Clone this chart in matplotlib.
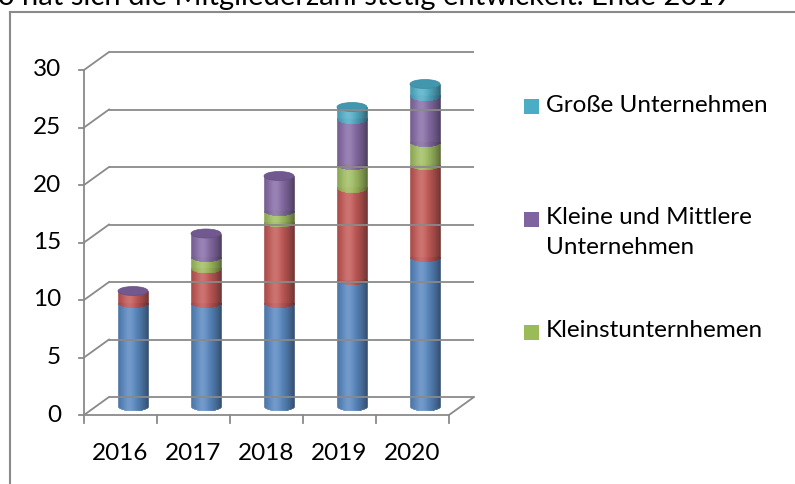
import numpy as np
import matplotlib
matplotlib.use("Agg")
import matplotlib.pyplot as plt
from matplotlib.patches import Ellipse, Rectangle
from matplotlib.lines import Line2D

# === Data ===
years = ["2016", "2017", "2018", "2019", "2020"]
series_names = ["Einzelmitglieder", "Kleinstunternhemen (rot)", "Kleinstunternhemen",
                "Kleine und Mittlere\nUnternehmen", "Große Unternehmen"]
blue = [9, 9, 9, 11, 13]
red = [1, 3, 7, 8, 8]
green = [0, 1, 1, 2, 2]
purple = [0, 2, 3, 4, 4]
cyan = [np.nan, np.nan, np.nan, 1, 1]
yticks = [0, 5, 10, 15, 20, 25, 30]
legend_idx = [4, 3, 2]  # entries visible in the legend, top to bottom

series = [blue, red, green, purple, cyan]
colors = ["#4F81BD", "#C0504D", "#9BBB59", "#8064A2", "#4BACC6"]

plt.rcParams['font.family'] = ['Lato', 'DejaVu Sans']
FS = 17.5
GREY = "#8a8a8a"

W, H = 795, 484
fig = plt.figure(figsize=(W / 100, H / 100), dpi=100)

# axes = middle depth plane of the pseudo-3D box (pixel geometry)
left_px, right_px = 96.5, 461.5
bot_px, top_px = 406.0, 61.0
ax = fig.add_axes([left_px / W, 1 - bot_px / H, (right_px - left_px) / W, (bot_px - top_px) / H])
ax.set_xlim(-0.5, len(years) - 0.5)
ax.set_ylim(0, 30)
ax.axis("off")

px_x = (right_px - left_px) / len(years)
px_y = (bot_px - top_px) / 30
ddx = 12.5 / px_x   # half depth, in data units
ddy = 9.0 / px_y

lw = 1.3
x0, x1 = -0.5, len(years) - 0.5

# back wall gridlines + side wall diagonals
for v in yticks:
    ax.plot([x0 + ddx, x1 + ddx], [v + ddy, v + ddy], color=GREY, lw=lw, clip_on=False,
            solid_capstyle="butt")
    ax.plot([x0 - ddx, x0 + ddx], [v - ddy, v + ddy], color=GREY, lw=lw, clip_on=False)
    # y ticks on front axis
    ax.plot([x0 - ddx - 5 / px_x, x0 - ddx], [v - ddy, v - ddy], color=GREY, lw=lw, clip_on=False)
    ax.text(x0 - ddx - 23 / px_x, v - ddy, str(v), ha="right", va="center", fontsize=FS)

# front vertical axis
ax.plot([x0 - ddx, x0 - ddx], [-ddy, 30 - ddy], color=GREY, lw=lw, clip_on=False)
# floor front edge and right diagonal
ax.plot([x0 - ddx, x1 - ddx], [-ddy, -ddy], color=GREY, lw=lw, clip_on=False)
ax.plot([x1 - ddx, x1 + ddx], [-ddy, ddy], color=GREY, lw=lw, clip_on=False)
# x ticks
for k in range(len(years) + 1):
    xk = k - 0.5 - ddx
    ax.plot([xk, xk], [-ddy, -ddy - 8 / px_y], color=GREY, lw=lw, clip_on=False)
for i, yr in enumerate(years):
    ax.text(i - ddx, -ddy - 38 / px_y, yr, ha="center", va="center", fontsize=FS)


# === Cylinders ===
def shade(base, t):
    rgb = np.array(matplotlib.colors.to_rgb(base))
    f = 1.0 - 0.45 * ((t + 0.25) / 1.25) ** 2
    hl = 0.16 * np.exp(-((t + 0.25) / 0.4) ** 2)
    c = rgb * f + (1 - rgb) * hl
    return tuple(np.clip(c, 0, 1))


bw = 30 / px_x
eh = 9.0 / px_y
n = 30
ts = (np.arange(n) + 0.5) / n * 2 - 1
xs = np.arange(len(years))

bottoms = np.zeros(len(years))
cap_color = [None] * len(years)
for vals, col in zip(series, colors):
    vals = np.array(vals, dtype=float)
    for i in range(len(years)):
        v = vals[i]
        if np.isnan(v):
            continue
        cap_color[i] = col
        if v <= 0:
            continue
        y0 = bottoms[i]
        y1 = y0 + v
        sx = xs[i] + ts * bw / 2
        sb = y0 - eh / 2 * np.sqrt(1 - ts ** 2)
        cols = [shade(col, t) for t in ts]
        ax.bar(sx, y1 - sb, width=bw / n, bottom=sb, color=cols, edgecolor=cols,
               linewidth=0.4, clip_on=False)
        bottoms[i] = y1

for i in range(len(years)):
    base = np.array(matplotlib.colors.to_rgb(cap_color[i]))
    ax.add_patch(Ellipse((xs[i], bottoms[i]), bw, eh, facecolor=tuple(base * 0.88),
                         edgecolor=tuple(base * 0.8), linewidth=0.5, clip_on=False))

# === Legend (manual, Excel-like spacing) ===
leg_y = [106.5, 219, 332]
for k, idx in enumerate(legend_idx):
    yc = leg_y[k]
    fig.patches.append(Rectangle((524 / W, 1 - (yc + 7.5) / H), 15 / W, 15 / H,
                                 facecolor=colors[idx], edgecolor="none",
                                 transform=fig.transFigure))
    fig.text(546 / W, 1 - (yc - 12) / H, series_names[idx], ha="left", va="top",
             fontsize=FS, linespacing=1.55)

# chart frame (left and top edges visible)
fig.add_artist(Line2D([10 / W, 10 / W], [0, 1 - 12 / H], color=GREY, lw=1.5,
                      transform=fig.transFigure))
fig.add_artist(Line2D([10 / W, 1], [1 - 12 / H, 1 - 12 / H], color=GREY, lw=1.5,
                      transform=fig.transFigure))

# cut-off caption line above the chart
fig.text(-2 / W, 1 - 5 / H, "o hat sich die Mitgliederzahl stetig entwickelt. Ende 2019",
         ha="left", va="baseline", fontsize=21)

fig.savefig("out.png", dpi=100)
